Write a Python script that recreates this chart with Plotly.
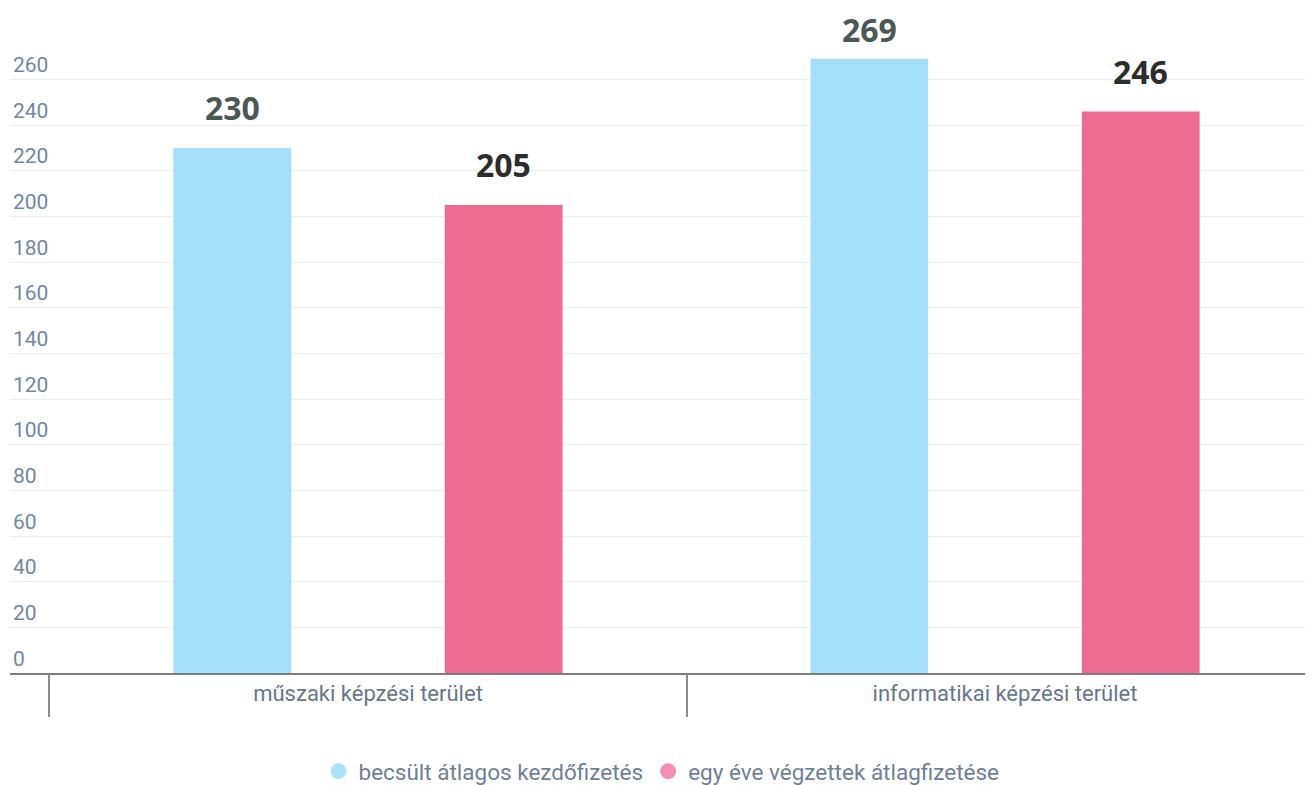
import plotly.graph_objects as go

# data
categories = ['műszaki képzési terület', 'informatikai képzési terület']
series_names = ['becsült átlagos kezdőfizetés', 'egy éve végzettek átlagfizetése']
starting_salary = [230, 269]
graduates_salary = [205, 246]
y_ticks = list(range(0, 261, 20))

bar_colors = ['#a3dffa', '#ee6b92']
legend_colors = ['#ade3f8', '#f48fb0']
label_colors = ['#4a5955', '#2d2d2d']

bargap = 0.148
bargroupgap = 0.566
x_range = [-0.562, 1.4835]

fig = go.Figure()

for name, vals, col in zip(series_names, [starting_salary, graduates_salary], bar_colors):
    fig.add_trace(go.Bar(
        x=categories, y=vals, name=name,
        marker=dict(color=col, line=dict(width=0)),
        showlegend=False, hoverinfo='x+y'
    ))

# circle legend entries
for name, col in zip(series_names, legend_colors):
    fig.add_trace(go.Scatter(
        x=[None], y=[None], mode='markers', name=name,
        marker=dict(symbol='circle', size=22, color=col)
    ))

# value labels above bars (the tallest one is squeezed closer so it stays inside)
offset = (1 - bargap) / 4
for s, (vals, col) in enumerate(zip([starting_salary, graduates_salary], label_colors)):
    for i, v in enumerate(vals):
        fig.add_annotation(
            x=i + (offset if s else -offset), y=v, xref='x', yref='y',
            text=str(v), showarrow=False, yanchor='middle',
            yshift=40 if v < 260 else 29,
            font=dict(family='Open Sans', size=32, color=col, weight='bold')
        )

# boundary ticks under the category axis
fig.add_trace(go.Scatter(x=[None], y=[None], xaxis='x2', showlegend=False))

# the page body has an 8px left margin, so the figure is a bit narrower than the window
fig.update_layout(
    width=1305, height=785,
    margin=dict(l=2, r=0, t=10, b=112),
    paper_bgcolor='white', plot_bgcolor='white',
    barmode='group', bargap=bargap, bargroupgap=bargroupgap,
    font=dict(family='Roboto', color='#6a7c90'),
    xaxis=dict(
        type='category', range=x_range,
        showline=True, linecolor='#7d7d7d', linewidth=2,
        ticks='', showgrid=False,
        tickfont=dict(family='Roboto', size=22, color='#66778b'),
    ),
    xaxis2=dict(
        overlaying='x', side='bottom', range=x_range,
        tickvals=[-0.5, 0.5, 1.5], ticks='outside', ticklen=43,
        tickwidth=1.5, tickcolor='#8a8a8a', showticklabels=False,
        showgrid=False, zeroline=False, showline=False,
    ),
    yaxis=dict(
        range=[0, 286.9], tickvals=y_ticks,
        ticklabelposition='inside top',
        tickfont=dict(family='Roboto', size=21, color='#6f88a3'),
        showgrid=True, gridcolor='#ececec', gridwidth=1,
        zeroline=False, showline=False, ticks='',
    ),
    legend=dict(
        orientation='h', x=0.5, xanchor='center', y=-0.151, yanchor='middle',
        font=dict(family='Roboto', size=22.5, color='#6f7f96'),
        itemsizing='trace', traceorder='normal',
    ),
)

fig.write_html("out.html")
